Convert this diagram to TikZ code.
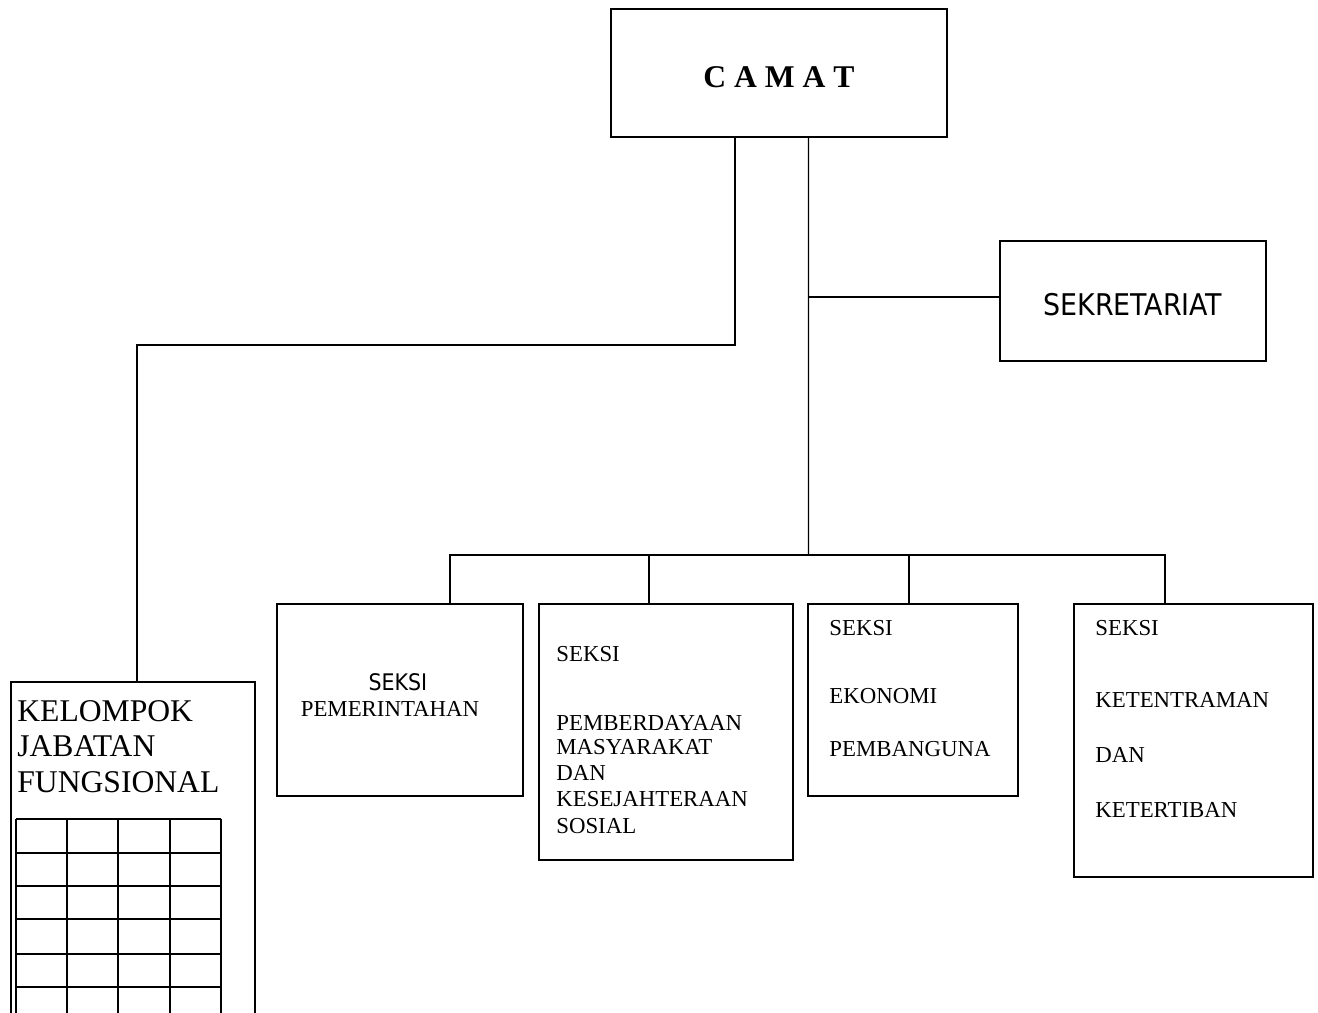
\documentclass[tikz,border=0pt]{standalone}
\usepackage{fontspec}
\setmainfont{Liberation Serif}
\newfontfamily\tahoma{DejaVu Sans Condensed}

\tikzset{
  kotak/.style={draw, line width=1.1pt, inner sep=0pt, outer sep=0pt, anchor=north west},
  garis/.style={line width=0.8pt},
  teks/.style={inner sep=0pt, anchor=west, font=\fontsize{13}{15}\selectfont},
}

\begin{document}
\begin{tikzpicture}[x=0.02cm,y=-0.02cm]
\useasboundingbox (0,0) rectangle (1318,1012);

 \node[kotak, minimum width=6.72cm, minimum height=2.56cm, font=\bfseries\fontsize{18}{20}\selectfont] (camat) at (611,9) {\rule{0pt}{17pt}C A M A T};
 \node[kotak, minimum width=5.32cm, minimum height=2.4cm, font=\tahoma\fontsize{17}{19}\selectfont] (sekretariat) at (1000,241) {\rule{0pt}{17pt}SEKRETARIAT};

 \node[kotak, minimum width=4.92cm, minimum height=3.84cm] (pem) at (277,604) {};
 \node[kotak, minimum width=5.08cm, minimum height=5.12cm] (pmks) at (539,604) {};
 \node[kotak, minimum width=4.2cm, minimum height=3.84cm] (ekon) at (808,604) {};
 \node[kotak, minimum width=4.78cm, minimum height=5.46cm] (trantib) at (1074,604) {};
 \node[kotak, minimum width=4.88cm, minimum height=7.4cm] (kelompok) at (11,682) {};

% seksi pemerintahan
 \node[teks, anchor=center, font=\tahoma\fontsize{13}{15}\selectfont] (pemseksi) at (398,682) {SEKSI};
 \node[teks, anchor=center] (pemnama) at (390,709) {PEMERINTAHAN};

% seksi pemberdayaan
 \node[teks] (pmksseksi) at (556,654) {SEKSI};
 \node[teks] (pmks1) at (556,723) {PEMBERDAYAAN};
 \node[teks] (pmks2) at (556,747) {MASYARAKAT};
 \node[teks] (pmks3) at (556,773) {DAN};
 \node[teks] (pmks4) at (556,799) {KESEJAHTERAAN};
 \node[teks] (pmks5) at (556,826) {SOSIAL};

% seksi ekonomi
 \node[teks] (ekonseksi) at (829,628) {SEKSI};
 \node[teks] (ekon1) at (829,696) {EKONOMI};
 \node[teks] (ekon2) at (829,749) {PEMBANGUNA};

% seksi ketentraman
 \node[teks] (trantibseksi) at (1095,628) {SEKSI};
 \node[teks] (trantib1) at (1095,700) {KETENTRAMAN};
 \node[teks] (trantib2) at (1095,755) {DAN};
 \node[teks] (trantib3) at (1095,810) {KETERTIBAN};

% kelompok jabatan fungsional
 \node[teks, font=\fontsize{18}{20}\selectfont] (kel1) at (17,711) {KELOMPOK};
 \node[teks, font=\fontsize{18}{20}\selectfont] (kel2) at (17,746) {JABATAN};
 \node[teks, font=\fontsize{18}{20}\selectfont] (kel3) at (17,782) {FUNGSIONAL};

 \draw[line width=1.5pt] (16,819) -- (221,819);
 \draw[line width=1.5pt] (16,853) -- (221,853);
 \draw[line width=1.5pt] (16,886) -- (221,886);
 \draw[line width=1.5pt] (16,919) -- (221,919);
 \draw[line width=1.5pt] (16,954) -- (221,954);
 \draw[line width=1.5pt] (16,987) -- (221,987);
 \draw[line width=1.5pt] (16,819) -- (16,1020);
 \draw[line width=1.5pt] (67,819) -- (67,1020);
 \draw[line width=1.5pt] (118,819) -- (118,1020);
 \draw[line width=1.5pt] (170,819) -- (170,1020);
 \draw[line width=1.5pt] (221,819) -- (221,1020);

% garis
 \coordinate (bus) at (808.5,555);
 \draw[garis] ([xshift=-0.88cm]camat.south) -- ++(0,208) -| ([xshift=0.08cm]kelompok.north);
 \draw[garis] ([xshift=0.59cm]camat.south) -- (bus);
 \draw[garis] ([yshift=0.08cm]sekretariat.west) -- ([yshift=0.08cm]sekretariat.west -| bus);
 \draw[garis] ([xshift=1cm]pem.north) |- (bus);
 \draw[garis] ([xshift=-0.34cm]pmks.north) |- (bus);
 \draw[garis] ([xshift=-0.08cm]ekon.north) |- (bus);
 \draw[garis] ([xshift=-0.57cm]trantib.north) |- (bus);
\end{tikzpicture}
\end{document}
